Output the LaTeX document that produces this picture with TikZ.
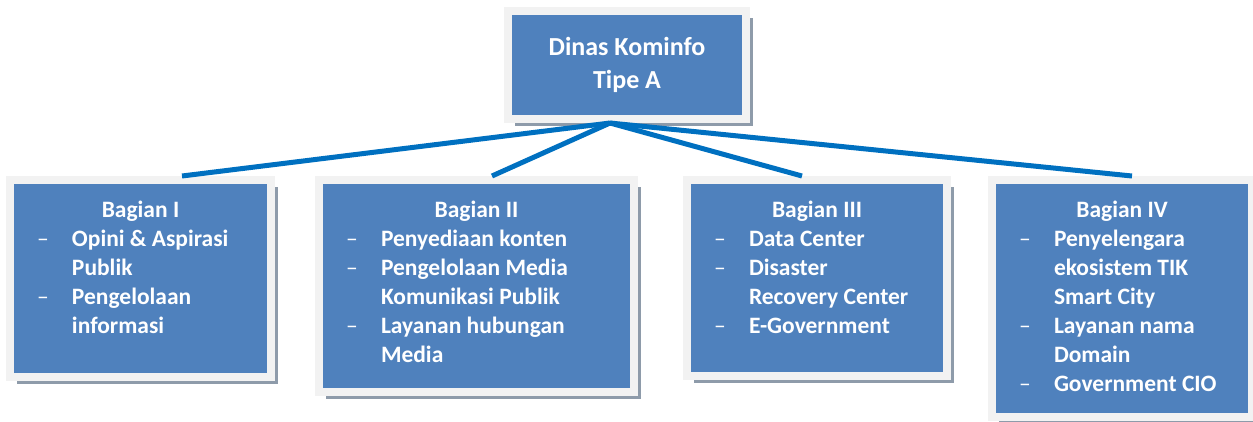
\documentclass[tikz,border=0pt]{standalone}
\usepackage{fontspec}
\setmainfont{Carlito}
\usetikzlibrary{shadows}
\definecolor{boxblue}{HTML}{4F81BD}
\definecolor{framegray}{HTML}{F2F2F2}
\definecolor{shadowgray}{HTML}{8E9BAA}
\definecolor{linkblue}{HTML}{0070C0}
\newcommand{\boxtext}[3]{\parbox[c][#2pt][t]{#1pt}{\vspace*{21pt}#3}}
\newcommand{\head}[1]{{\centering #1\par}}
\newcommand{\itm}[1]{\par\hangindent=62pt\hangafter=1\noindent\hspace*{27pt}\makebox[35pt][l]{\mdseries –}#1}

\begin{document}
\begin{tikzpicture}[x=1pt,y=-1pt,
  box/.style={fill=boxblue,draw=framegray,line width=8pt,inner sep=0pt,text=white,
    font=\bfseries\fontsize{23.5}{29}\selectfont,
    drop shadow={shadow xshift=7pt,shadow yshift=-7pt,fill=shadowgray,opacity=1}},
  link/.style={draw=linkblue,line width=5pt}]
\useasboundingbox (0,0) rectangle (1253,421);

\node[box,minimum width=238,minimum height=108,align=center,font=\bfseries\fontsize{26}{33}\selectfont] (top) at (627,65) {Dinas Kominfo\\Tipe A};

\node[box] (b1) at (140.5,278.5) {\boxtext{261}{197}{\head{Bagian I}
  \itm{Opini \& Aspirasi\\Publik}
  \itm{Pengelolaan\\informasi}}};
\node[box] (b2) at (476.5,286) {\boxtext{315}{212}{\head{Bagian II}
  \itm{Penyediaan konten}
  \itm{Pengelolaan Media\\Komunikasi Publik}
  \itm{Layanan hubungan\\Media}}};
\node[box] (b3) at (817,278) {\boxtext{260}{196}{\head{Bagian III}
  \itm{Data Center}
  \itm{Disaster\\Recovery Center}
  \itm{E-Government}}};
\node[box] (b4) at (1122,298.5) {\boxtext{260}{237}{\head{Bagian IV}
  \itm{Penyelengara\\ekosistem TIK\\Smart City}
  \itm{Layanan nama\\Domain}
  \itm{Government CIO}}};

\coordinate (apex) at ([xshift=-17pt]top.south);
\foreach \b/\s in {b1/41.5, b2/15.5, b3/-15, b4/10}
  \draw[link] (apex) -- ([xshift=\s pt]\b.north);

\end{tikzpicture}
\end{document}
